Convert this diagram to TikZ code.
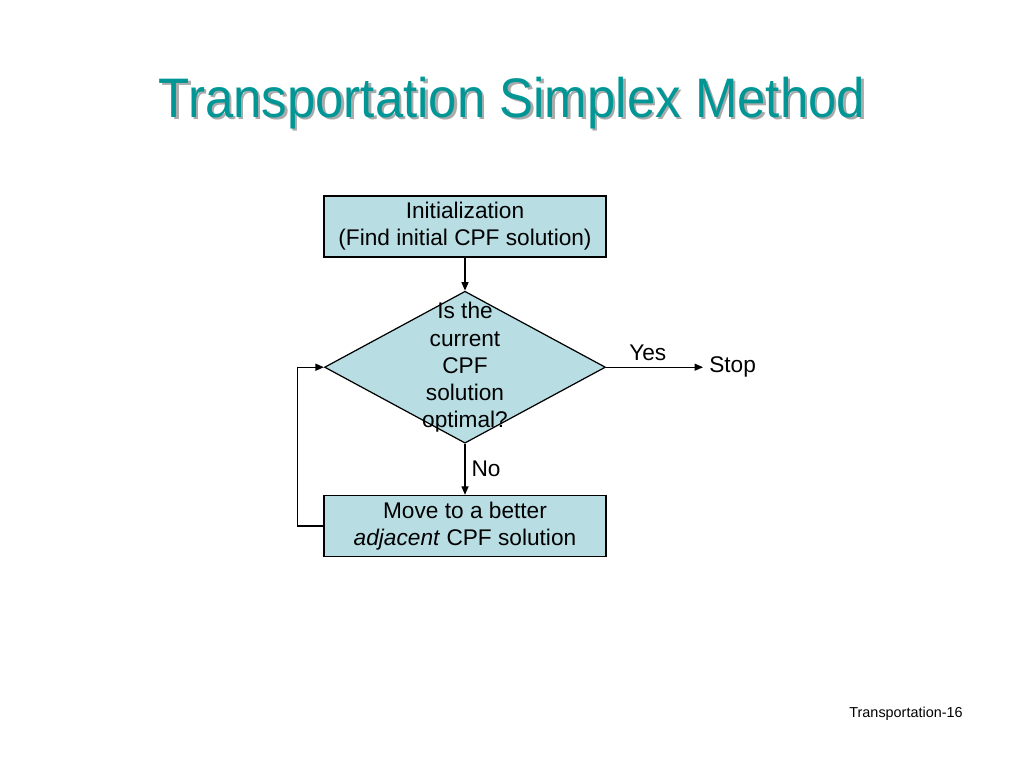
\documentclass[tikz,border=0pt]{standalone}
\usepackage{fontspec}
\setmainfont{Liberation Sans}
\usetikzlibrary{positioning,shapes.geometric,arrows.meta}
\definecolor{boxfill}{RGB}{184,222,228}
\definecolor{titleteal}{RGB}{0,150,150}
\definecolor{titleshade}{RGB}{170,170,170}
\tikzset{
	stepbox/.style={draw, line width=0.7pt, fill=boxfill, minimum width=5.64cm, minimum height=1.22cm, align=center, font=\fontsize{12.9}{15.4}\selectfont},
	testbox/.style={draw, line width=0.7pt, fill=boxfill, shape=diamond, minimum width=5.62cm, minimum height=3.04cm, inner sep=0pt},
	flow/.style={line width=0.75pt, -{Triangle[length=1.7mm,width=1.4mm]}},
	tag/.style={font=\fontsize{12.9}{15.4}\selectfont},
	headline/.style={anchor=base, xscale=0.915, font=\fontsize{31.7}{38}\selectfont}
}

\begin{document}
\begin{tikzpicture}[x=0.02cm, y=-0.02cm]
			%%%%% START %%%%%
			
			\useasboundingbox (0, 0) rectangle (1024, 768);
			
			\node[headline, text=titleshade] (titleshadow) at (514.5, 119.5) {Transportation Simplex Method};
			\node[headline, text=titleteal] (title) at (512, 117) {Transportation Simplex Method};
			
			\node[stepbox] (init) at (465, 226.5) {Initialization\\(Find initial CPF solution)};
			\node[testbox, below=0.66cm of init, label={[tag, align=center]center:Is the\\current\\CPF\\solution\\optimal?}] (test) {};
			\node[stepbox, below=1.02cm of test] (move) {Move to a better\\\textit{adjacent} CPF solution};
			\node[tag, anchor=west, right=1.94cm of test.east] (stop) {Stop};
			
			\draw[flow] (init) -- (test);
			\draw[flow] (test.east) -- node[tag, above, pos=0.43] {Yes} (stop);
			\draw[flow] (test.south) -- node[tag, right, pos=0.5] {No} (move);
			\draw[flow] (move.west) -- ++(-26, 0) |- (test.west);
			
			\node[font=\fontsize{8.2}{10}\selectfont] (page) at (906, 714) {Transportation-16};
			
			%%%%% END %%%%%
\end{tikzpicture}
\end{document}
